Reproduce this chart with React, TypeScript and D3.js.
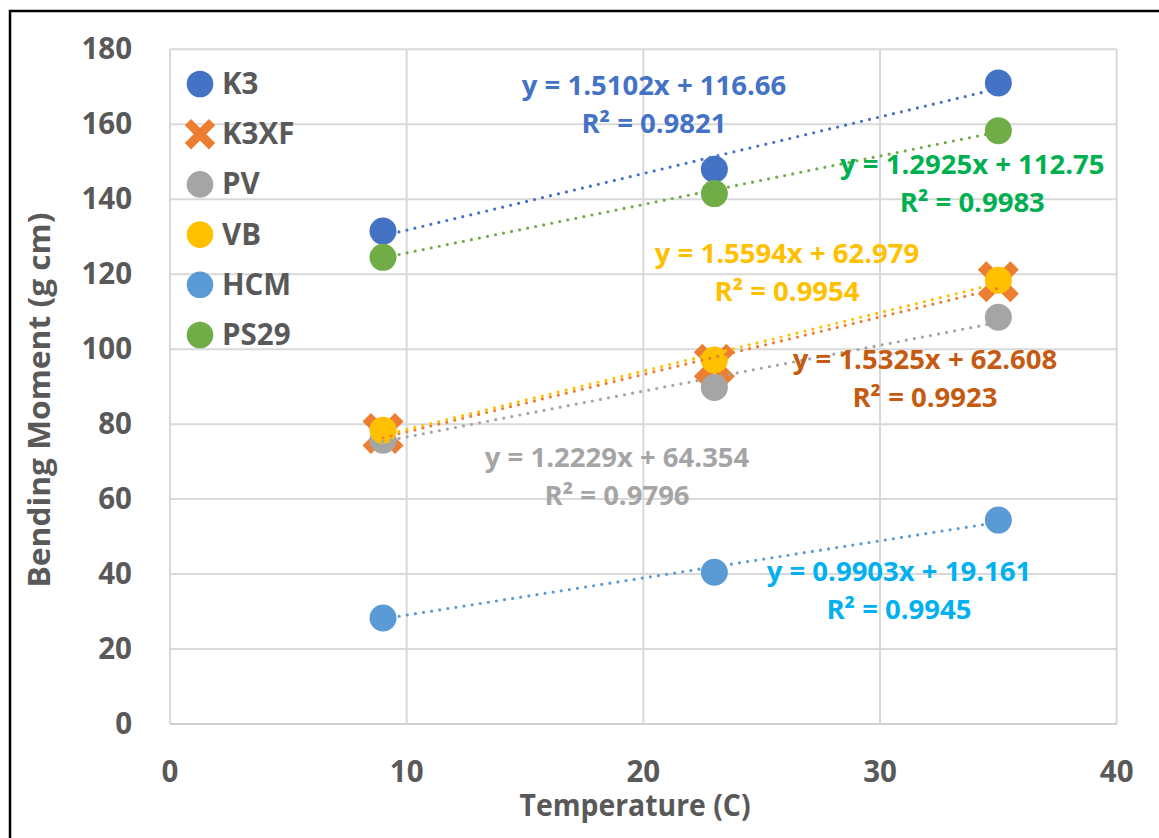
import React from "react";
import * as d3 from "d3";

// ---------- data ----------
const temperatures = [9, 23, 35];
const seriesNames = ["K3", "K3XF", "PV", "VB", "HCM", "PS29"];
const k3Values = [131.5, 148, 171];
const k3xfValues = [77.5, 96, 118];
const pvValues = [75.7, 89.8, 108.5];
const vbValues = [78.4, 97.1, 118.4];
const hcmValues = [28.3, 40.5, 54.4];
const ps29Values = [124.5, 141.5, 158.3];

const slopes = [1.5102, 1.5325, 1.2229, 1.5594, 0.9903, 1.2925];
const intercepts = [116.66, 62.608, 64.354, 62.979, 19.161, 112.75];
const rSquared = ["0.9821", "0.9923", "0.9796", "0.9954", "0.9945", "0.9983"];
const slopeLabels = ["1.5102", "1.5325", "1.2229", "1.5594", "0.9903", "1.2925"];
const interceptLabels = ["116.66", "62.608", "64.354", "62.979", "19.161", "112.75"];

const xTicks = [0, 10, 20, 30, 40];
const yTicks = [0, 20, 40, 60, 80, 100, 120, 140, 160, 180];
const xTitle = "Temperature (C)";
const yTitle = "Bending Moment (g cm)";

// ---------- styles / layout ----------
const markerColors = ["#4472C4", "#ED7D31", "#A5A5A5", "#FFC000", "#5B9BD5", "#70AD47"];
const labelColors = ["#4472C4", "#C55A11", "#A5A5A5", "#FFC000", "#00B0F0", "#00B050"];
const markerShapes = ["circle", "x", "circle", "circle", "circle", "circle"];
// equation label anchor (data units): center x, first-line baseline y
const eqLabelX = [20.45, 31.9, 18.89, 26.07, 30.8, 33.9];
const eqLabelY = [167.7, 94.7, 68.5, 122.9, 38.1, 146.7];

const W = 1159;
const H = 838;
const FONT = "'Open Sans', 'Noto Sans', sans-serif";
const GREY = "#595959";

const allValues = [k3Values, k3xfValues, pvValues, vbValues, hcmValues, ps29Values];

const xSymbol = {
  draw(ctx: any, size: number) {
    const s = size / 29;
    const a = 23 * s;
    const w = 6 * s;
    const pts = [
      [-w, -a], [w, -a], [w, -w], [a, -w], [a, w], [w, w],
      [w, a], [-w, a], [-w, w], [-a, w], [-a, -w], [-w, -w],
    ];
    const c = Math.SQRT1_2;
    pts.forEach(([px, py], i) => {
      const rx = (px - py) * c;
      const ry = (px + py) * c;
      if (i === 0) ctx.moveTo(rx, ry);
      else ctx.lineTo(rx, ry);
    });
    ctx.closePath();
  },
};

function xPath(size: number) {
  return d3.symbol(xSymbol as any, size)() as string;
}

export default function App() {
  const x = d3.scaleLinear().domain([0, 40]).range([170, 1116.7]);
  const y = d3.scaleLinear().domain([0, 180]).range([724, 49.3]);

  const markers = (si: number, cx: number, cy: number, key: string, big: boolean) => {
    if (markerShapes[si] === "x") {
      return (
        <path
          key={key}
          d={xPath(big ? 29 : 21.5)}
          transform={`translate(${cx},${cy})`}
          fill={markerColors[si]}
        />
      );
    }
    return <circle key={key} cx={cx} cy={cy} r={big ? 13.5 : 13.3} fill={markerColors[si]} />;
  };

  return (
    <svg
      width={W}
      height={H}
      style={{ position: "absolute", left: 0, top: 0, background: "#fff" }}
      fontFamily={FONT}
    >
      <rect x={0} y={0} width={W} height={H} fill="#fff" />
      {/* outer border */}
      <rect x={10} y={11} width={W + 10} height={H + 10} fill="none" stroke="#000" strokeWidth={2.5} />

      {/* gridlines */}
      {yTicks.map((t) => (
        <line key={"gy" + t} x1={x(0)} x2={x(40)} y1={y(t)} y2={y(t)} stroke="#D9D9D9" strokeWidth={2} />
      ))}
      {xTicks.map((t) => (
        <line key={"gx" + t} x1={x(t)} x2={x(t)} y1={y(0)} y2={y(180)} stroke="#D9D9D9" strokeWidth={2} />
      ))}
      <line x1={x(0)} x2={x(40)} y1={y(0)} y2={y(0)} stroke="#D0D0D0" strokeWidth={2} />

      {/* y tick labels */}
      {yTicks.map((t) => (
        <text key={"ly" + t} x={132} y={y(t) + 10} textAnchor="end" fontSize={29.5} fontWeight={700} fill={GREY}>
          {t}
        </text>
      ))}
      {/* x tick labels */}
      {xTicks.map((t) => (
        <text key={"lx" + t} x={x(t)} y={782} textAnchor="middle" fontSize={29.5} fontWeight={700} fill={GREY}>
          {t}
        </text>
      ))}

      {/* axis titles */}
      <text x={635} y={816} textAnchor="middle" fontSize={30} fontWeight={700} fill={GREY}
        textLength={231} lengthAdjust="spacingAndGlyphs">
        {xTitle}
      </text>
      <text
        transform={`translate(50,400) rotate(-90)`}
        textAnchor="middle"
        fontSize={30}
        fontWeight={700}
        fill={GREY}
        textLength={375}
        lengthAdjust="spacingAndGlyphs"
      >
        {yTitle}
      </text>

      {/* markers */}
      {allValues.map((vals, si) =>
        vals.map((v, i) => markers(si, x(temperatures[i]), y(v), `m${si}-${i}`, true))
      )}

      {/* trendlines */}
      {slopes.map((m, si) => {
        const x0 = d3.min(temperatures) as number;
        const x1 = d3.max(temperatures) as number;
        const pts: [number, number][] = [
          [x(x0), y(m * x0 + intercepts[si])],
          [x(x1), y(m * x1 + intercepts[si])],
        ];
        return (
          <path
            key={"t" + si}
            d={d3.line()(pts) as string}
            stroke={markerColors[si]}
            strokeWidth={3.2}
            strokeLinecap="round"
            strokeDasharray="0 8.2"
            fill="none"
          />
        );
      })}

      {/* equation labels */}
      {seriesNames.map((n, si) => {
        const cx = x(eqLabelX[si]);
        const by = y(eqLabelY[si]);
        return (
          <g key={"eq" + si} fill={labelColors[si]} fontSize={27.5} fontWeight={700} textAnchor="middle">
            <text x={cx} y={by}>{`y = ${slopeLabels[si]}x + ${interceptLabels[si]}`}</text>
            <text x={cx} y={by + 38}>{`R² = ${rSquared[si]}`}</text>
          </g>
        );
      })}

      {/* legend */}
      {seriesNames.map((n, si) => {
        const cy = 84 + si * 50.2;
        return (
          <g key={"lg" + si}>
            {markers(si, 200, cy, "lm" + si, false)}
            <text x={222} y={cy + 10} fontSize={29.5} fontWeight={700} fill={GREY}>
              {n}
            </text>
          </g>
        );
      })}
    </svg>
  );
}
